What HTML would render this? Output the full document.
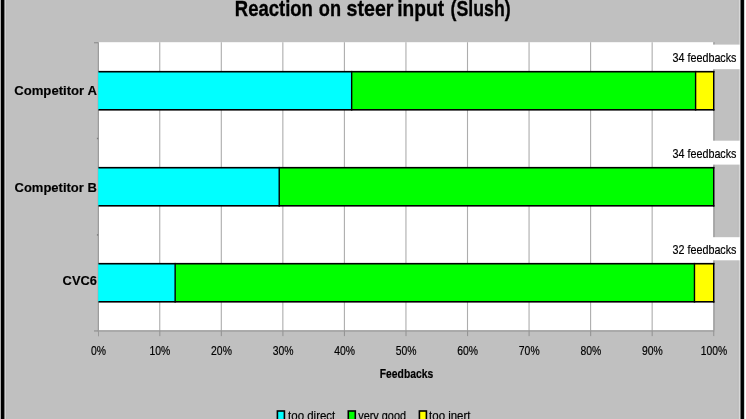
<!DOCTYPE html>
<html><head><meta charset="utf-8"><title>Reaction on steer input (Slush)</title>
<style>html,body{margin:0;padding:0;background:#c0c0c0;overflow:hidden}svg{display:block}text{font-family:"Liberation Sans",sans-serif;fill:#000}</style>
</head><body>
<svg width="746" height="419" viewBox="0 0 746 419">
<rect x="0" y="0" width="746" height="419" fill="#c0c0c0"/>
<rect x="0" y="0" width="1" height="419" fill="#b0b0b0"/>
<rect x="1" y="0" width="1" height="419" fill="#000"/>
<rect x="2" y="0" width="1" height="419" fill="#000"/>
<rect x="3" y="0" width="1" height="419" fill="#040404"/>
<rect x="4" y="0" width="1" height="419" fill="#808080"/>
<rect x="5" y="0" width="1" height="419" fill="#d4d4d4"/>
<rect x="6" y="0" width="1" height="419" fill="#bcbcbc"/>
<rect x="737" y="0" width="1" height="419" fill="#bebebe"/>
<rect x="739" y="0" width="1" height="419" fill="#d8d8d8"/>
<rect x="740" y="0" width="1" height="419" fill="#707070"/>
<rect x="741" y="0" width="1" height="419" fill="#000"/>
<rect x="742" y="0" width="1" height="419" fill="#000"/>
<rect x="743" y="0" width="1" height="419" fill="#080808"/>
<rect x="744" y="0" width="1" height="419" fill="#d0d0d0"/>
<rect x="745" y="0" width="1" height="419" fill="#fff"/>
<rect x="98.2" y="42.2" width="615.5" height="288.1" fill="#fff"/>
<rect x="159.20" y="42.2" width="1.1" height="288.1" fill="#adadad"/>
<rect x="220.75" y="42.2" width="1.1" height="288.1" fill="#adadad"/>
<rect x="282.30" y="42.2" width="1.1" height="288.1" fill="#adadad"/>
<rect x="343.85" y="42.2" width="1.1" height="288.1" fill="#adadad"/>
<rect x="405.40" y="42.2" width="1.1" height="288.1" fill="#adadad"/>
<rect x="466.95" y="42.2" width="1.1" height="288.1" fill="#adadad"/>
<rect x="528.50" y="42.2" width="1.1" height="288.1" fill="#adadad"/>
<rect x="590.05" y="42.2" width="1.1" height="288.1" fill="#adadad"/>
<rect x="651.60" y="42.2" width="1.1" height="288.1" fill="#adadad"/>
<rect x="713.15" y="42.2" width="1.1" height="288.1" fill="#adadad"/>
<rect x="713.40" y="42.2" width="1.5" height="288.1" fill="#a6a6a6"/>
<rect x="97.3" y="42.2" width="0.8" height="289.1" fill="#b2b2b2"/>
<rect x="98.1" y="42.2" width="0.9" height="294.1" fill="#949494"/>
<rect x="97.80" y="330.3" width="616.5" height="1.3" fill="#9a9a9a"/>
<rect x="159.25" y="330.3" width="1.1" height="5.8" fill="#959595"/>
<rect x="220.80" y="330.3" width="1.1" height="5.8" fill="#959595"/>
<rect x="282.35" y="330.3" width="1.1" height="5.8" fill="#959595"/>
<rect x="343.90" y="330.3" width="1.1" height="5.8" fill="#959595"/>
<rect x="405.45" y="330.3" width="1.1" height="5.8" fill="#959595"/>
<rect x="467.00" y="330.3" width="1.1" height="5.8" fill="#959595"/>
<rect x="528.55" y="330.3" width="1.1" height="5.8" fill="#959595"/>
<rect x="590.10" y="330.3" width="1.1" height="5.8" fill="#959595"/>
<rect x="651.65" y="330.3" width="1.1" height="5.8" fill="#959595"/>
<rect x="713.20" y="330.3" width="1.1" height="5.8" fill="#959595"/>
<rect x="94.00" y="42.2" width="4" height="1.1" fill="#8c8c8c"/>
<rect x="94.00" y="330.4" width="4" height="1.1" fill="#8c8c8c"/>
<rect x="96.9" y="137.8" width="1.3" height="1.4" fill="#7a7a7a"/>
<rect x="96.9" y="234.2" width="1.3" height="1.4" fill="#7a7a7a"/>
<rect x="660" y="44.6" width="80" height="24.6" fill="#fff"/>
<rect x="660" y="140.7" width="80" height="23.9" fill="#fff"/>
<rect x="660" y="237.2" width="80" height="23.1" fill="#fff"/>
<rect x="98.20" y="71.7" width="253.46" height="38.1" fill="#00ffff"/>
<rect x="351.66" y="71.7" width="343.94" height="38.1" fill="#00ff00"/>
<rect x="695.60" y="71.7" width="18.10" height="38.1" fill="#ffff00"/>
<rect x="98.50" y="70.90" width="615.90" height="1.6" fill="#000"/>
<rect x="98.50" y="109.00" width="615.90" height="1.6" fill="#000"/>
<rect x="350.96" y="70.90" width="1.4" height="39.70" fill="#000"/>
<rect x="694.90" y="70.90" width="1.4" height="39.70" fill="#000"/>
<rect x="713.00" y="70.90" width="1.4" height="39.70" fill="#000"/>
<rect x="98.20" y="167.7" width="181.02" height="38.1" fill="#00ffff"/>
<rect x="279.22" y="167.7" width="434.48" height="38.1" fill="#00ff00"/>
<rect x="98.50" y="166.90" width="615.90" height="1.6" fill="#000"/>
<rect x="98.50" y="205.00" width="615.90" height="1.6" fill="#000"/>
<rect x="278.52" y="166.90" width="1.4" height="39.70" fill="#000"/>
<rect x="713.00" y="166.90" width="1.4" height="39.70" fill="#000"/>
<rect x="98.20" y="263.7" width="76.94" height="38.1" fill="#00ffff"/>
<rect x="175.14" y="263.7" width="519.33" height="38.1" fill="#00ff00"/>
<rect x="694.47" y="263.7" width="19.23" height="38.1" fill="#ffff00"/>
<rect x="98.50" y="262.90" width="615.90" height="1.6" fill="#000"/>
<rect x="98.50" y="301.00" width="615.90" height="1.6" fill="#000"/>
<rect x="174.44" y="262.90" width="1.4" height="39.70" fill="#000"/>
<rect x="693.77" y="262.90" width="1.4" height="39.70" fill="#000"/>
<rect x="713.00" y="262.90" width="1.4" height="39.70" fill="#000"/>
<text y="16.2" font-size="22.5" font-weight="bold" stroke="#000" stroke-width="0.35"><tspan x="234.8" textLength="78.1" lengthAdjust="spacingAndGlyphs">Reaction</tspan> <tspan x="318.8" textLength="22.2" lengthAdjust="spacingAndGlyphs">on</tspan> <tspan x="346.6" textLength="46.9" lengthAdjust="spacingAndGlyphs">steer</tspan> <tspan x="397.3" textLength="46.7" lengthAdjust="spacingAndGlyphs">input</tspan> <tspan x="450.6" textLength="60.0" lengthAdjust="spacingAndGlyphs">(Slush)</tspan></text>
<text x="14.2" y="94.6" font-size="13" font-weight="bold" stroke="#000" stroke-width="0.15" textLength="82.7" lengthAdjust="spacingAndGlyphs">Competitor A</text>
<text x="14.5" y="191.5" font-size="13" font-weight="bold" stroke="#000" stroke-width="0.15" textLength="82.4" lengthAdjust="spacingAndGlyphs">Competitor B</text>
<text x="62.6" y="285.3" font-size="13" font-weight="bold" stroke="#000" stroke-width="0.15" textLength="34.3" lengthAdjust="spacingAndGlyphs">CVC6</text>
<text x="672.5" y="61.8" font-size="13.5" stroke="#000" stroke-width="0.2" textLength="64" lengthAdjust="spacingAndGlyphs">34 feedbacks</text>
<text x="672.5" y="157.6" font-size="13.5" stroke="#000" stroke-width="0.2" textLength="64" lengthAdjust="spacingAndGlyphs">34 feedbacks</text>
<text x="672.5" y="253.8" font-size="13.5" stroke="#000" stroke-width="0.2" textLength="64" lengthAdjust="spacingAndGlyphs">32 feedbacks</text>
<text x="90.90" y="355.4" font-size="13.5" stroke="#000" stroke-width="0.2" textLength="15" lengthAdjust="spacingAndGlyphs">0%</text>
<text x="149.55" y="355.4" font-size="13.5" stroke="#000" stroke-width="0.2" textLength="20.8" lengthAdjust="spacingAndGlyphs">10%</text>
<text x="211.10" y="355.4" font-size="13.5" stroke="#000" stroke-width="0.2" textLength="20.8" lengthAdjust="spacingAndGlyphs">20%</text>
<text x="272.65" y="355.4" font-size="13.5" stroke="#000" stroke-width="0.2" textLength="20.8" lengthAdjust="spacingAndGlyphs">30%</text>
<text x="334.20" y="355.4" font-size="13.5" stroke="#000" stroke-width="0.2" textLength="20.8" lengthAdjust="spacingAndGlyphs">40%</text>
<text x="395.75" y="355.4" font-size="13.5" stroke="#000" stroke-width="0.2" textLength="20.8" lengthAdjust="spacingAndGlyphs">50%</text>
<text x="457.30" y="355.4" font-size="13.5" stroke="#000" stroke-width="0.2" textLength="20.8" lengthAdjust="spacingAndGlyphs">60%</text>
<text x="518.85" y="355.4" font-size="13.5" stroke="#000" stroke-width="0.2" textLength="20.8" lengthAdjust="spacingAndGlyphs">70%</text>
<text x="580.40" y="355.4" font-size="13.5" stroke="#000" stroke-width="0.2" textLength="20.8" lengthAdjust="spacingAndGlyphs">80%</text>
<text x="641.95" y="355.4" font-size="13.5" stroke="#000" stroke-width="0.2" textLength="20.8" lengthAdjust="spacingAndGlyphs">90%</text>
<text x="700.70" y="355.4" font-size="13.5" stroke="#000" stroke-width="0.2" textLength="26.4" lengthAdjust="spacingAndGlyphs">100%</text>
<text x="379.8" y="377.6" font-size="13.5" font-weight="bold" stroke="#000" stroke-width="0.2" textLength="53.4" lengthAdjust="spacingAndGlyphs">Feedbacks</text>
<rect x="277.4" y="411" width="7.0" height="12" fill="#00ffff" stroke="#000" stroke-width="1.6"/>
<text x="288.1" y="419.6" font-size="13.5" stroke="#000" stroke-width="0.2" textLength="47.2" lengthAdjust="spacingAndGlyphs">too direct</text>
<rect x="348.3" y="411" width="7.0" height="12" fill="#00ff00" stroke="#000" stroke-width="1.6"/>
<text x="358.2" y="419.6" font-size="13.5" stroke="#000" stroke-width="0.2" textLength="47.8" lengthAdjust="spacingAndGlyphs">very good</text>
<rect x="419.4" y="411" width="7.0" height="12" fill="#ffff00" stroke="#000" stroke-width="1.6"/>
<text x="429.1" y="419.6" font-size="13.5" stroke="#000" stroke-width="0.2" textLength="41.4" lengthAdjust="spacingAndGlyphs">too inert</text>
</svg>
</body></html>
